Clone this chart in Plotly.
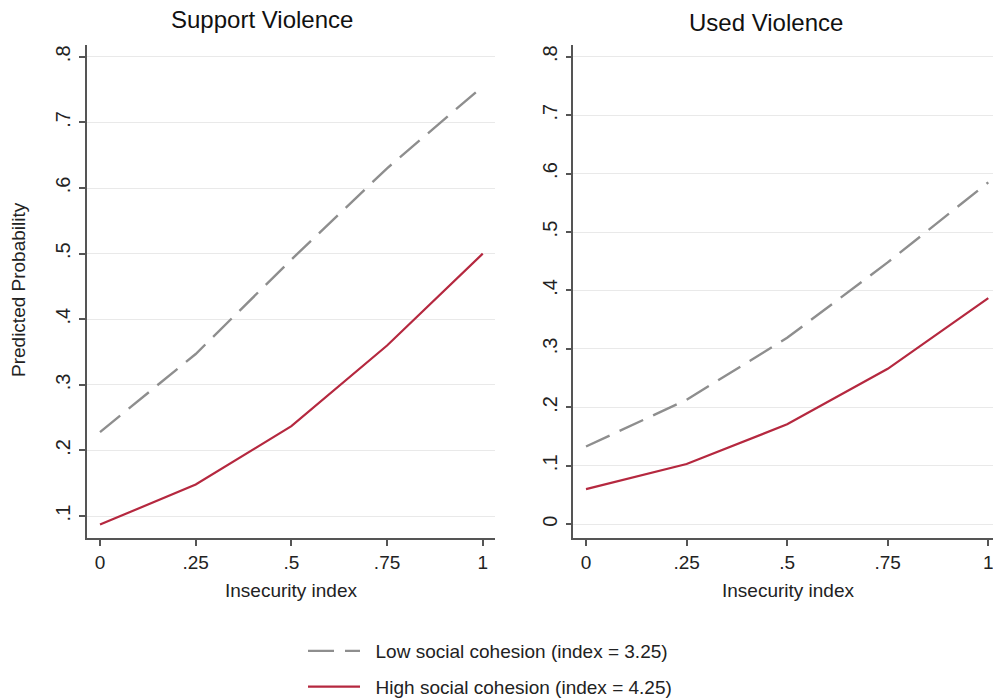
import plotly.graph_objects as go

# ---- data ----
insecurity = [0, 0.25, 0.5, 0.75, 1]
support_low = [0.228, 0.347, 0.491, 0.630, 0.755]
support_high = [0.087, 0.148, 0.237, 0.360, 0.500]
used_low = [0.133, 0.213, 0.319, 0.448, 0.585]
used_high = [0.060, 0.103, 0.171, 0.266, 0.387]

x_tickvals = [0, 0.25, 0.5, 0.75, 1]
x_ticktext = ["0", ".25", ".5", ".75", "1"]
y1_tickvals = [0.1, 0.2, 0.3, 0.4, 0.5, 0.6, 0.7, 0.8]
y1_ticktext = [".1", ".2", ".3", ".4", ".5", ".6", ".7", ".8"]
y2_tickvals = [0, 0.1, 0.2, 0.3, 0.4, 0.5, 0.6, 0.7, 0.8]
y2_ticktext = ["0", ".1", ".2", ".3", ".4", ".5", ".6", ".7", ".8"]

panel_titles = ["Support Violence", "Used Violence"]
x_title = "Insecurity index"
y_title = "Predicted Probability"
low_name = "Low social cohesion (index = 3.25)"
high_name = "High social cohesion (index = 4.25)"

GRAY = "#8e8e8e"
RED = "#b5283f"
AXIS = "#555555"
GRID = "#e9e9e9"
FONT = "Liberation Sans, Arial, Helvetica, sans-serif"

OFF = 0  # body margin removed by post_script
W, H = 993, 699

def px_x(p):
    return (p - OFF) / W

def px_y(p):
    return 1 - (p - OFF) / H

PAD = "\u00a0\u00a0"

fig = go.Figure()

fig.add_trace(go.Scatter(x=insecurity, y=support_low, mode="lines", name=PAD + low_name,
                         line=dict(color=GRAY, width=2.4, dash="26px,11px"),
                         xaxis="x", yaxis="y", legendgroup="low"))
fig.add_trace(go.Scatter(x=insecurity, y=support_high, mode="lines", name=PAD + high_name,
                         line=dict(color=RED, width=2.2),
                         xaxis="x", yaxis="y", legendgroup="high"))
fig.add_trace(go.Scatter(x=insecurity, y=used_low, mode="lines", name=low_name,
                         line=dict(color=GRAY, width=2.4, dash="26px,11px"),
                         xaxis="x2", yaxis="y2", showlegend=False, legendgroup="low"))
fig.add_trace(go.Scatter(x=insecurity, y=used_high, mode="lines", name=high_name,
                         line=dict(color=RED, width=2.2),
                         xaxis="x2", yaxis="y2", showlegend=False, legendgroup="high"))

ydom = [px_y(537.7), px_y(45)]

common_x = dict(showline=True, linecolor=AXIS, linewidth=1.5, ticks="outside",
                ticklen=7, tickcolor=AXIS, tickwidth=1.5, showgrid=False, zeroline=False,
                tickvals=x_tickvals, ticktext=x_ticktext, ticklabeloverflow="allow",
                tickfont=dict(size=19, color="#222222", family=FONT))
common_y = dict(showline=True, linecolor=AXIS, linewidth=1.5, ticks="outside",
                ticklen=6, tickcolor=AXIS, tickwidth=1.5, showgrid=True, gridcolor=GRID,
                gridwidth=1.2, zeroline=False, tickangle=-90, ticklabelstandoff=1,
                tickfont=dict(size=20, color="#222222", family=FONT))

fig.update_layout(
    width=W, height=H,
    paper_bgcolor="white", plot_bgcolor="white",
    margin=dict(l=0, r=0, t=0, b=0, autoexpand=False),
    font=dict(family=FONT, color="#222222"),
    xaxis=dict(domain=[px_x(87), px_x(495)], range=[-0.034, 1.032], anchor="y", **common_x),
    yaxis=dict(domain=ydom, range=[0.067, 0.818], anchor="x",
               tickvals=y1_tickvals, ticktext=y1_ticktext, **common_y),
    xaxis2=dict(domain=[px_x(573.3), 1.0], range=[-0.0316, 1.0117], anchor="y2", **common_x),
    yaxis2=dict(domain=ydom, range=[-0.023, 0.820], anchor="x2",
                tickvals=y2_tickvals, ticktext=y2_ticktext, **common_y),
    showlegend=True,
    legend=dict(x=px_x(303), y=px_y(632), xanchor="left", yanchor="top",
                orientation="v", traceorder="grouped", tracegroupgap=8,
                font=dict(size=19, family=FONT, color="#222222"),
                itemwidth=52, bgcolor="rgba(0,0,0,0)"),
)

annotations = [
    dict(text=panel_titles[0], x=px_x(262), y=px_y(20), xref="paper", yref="paper",
         showarrow=False, xanchor="center", yanchor="middle",
         font=dict(size=24, family=FONT, color="#111111")),
    dict(text=panel_titles[1], x=px_x(766), y=px_y(22), xref="paper", yref="paper",
         showarrow=False, xanchor="center", yanchor="middle",
         font=dict(size=24, family=FONT, color="#111111")),
    dict(text=x_title, x=px_x(291), y=px_y(590), xref="paper", yref="paper",
         showarrow=False, xanchor="center", yanchor="middle",
         font=dict(size=19, family=FONT, color="#222222")),
    dict(text=x_title, x=px_x(788), y=px_y(590), xref="paper", yref="paper",
         showarrow=False, xanchor="center", yanchor="middle",
         font=dict(size=19, family=FONT, color="#222222")),
    dict(text=y_title, x=px_x(18), y=px_y(290), xref="paper", yref="paper",
         showarrow=False, xanchor="center", yanchor="middle", textangle=-90,
         font=dict(size=19, family=FONT, color="#222222")),
]
fig.update_layout(annotations=annotations)

post = ("document.documentElement.style.margin='0';"
        "document.documentElement.style.overflow='hidden';"
        "document.body.style.margin='0';"
        "document.body.style.overflow='hidden';")

fig.write_html("out.html", post_script=post, config={"displayModeBar": False})
